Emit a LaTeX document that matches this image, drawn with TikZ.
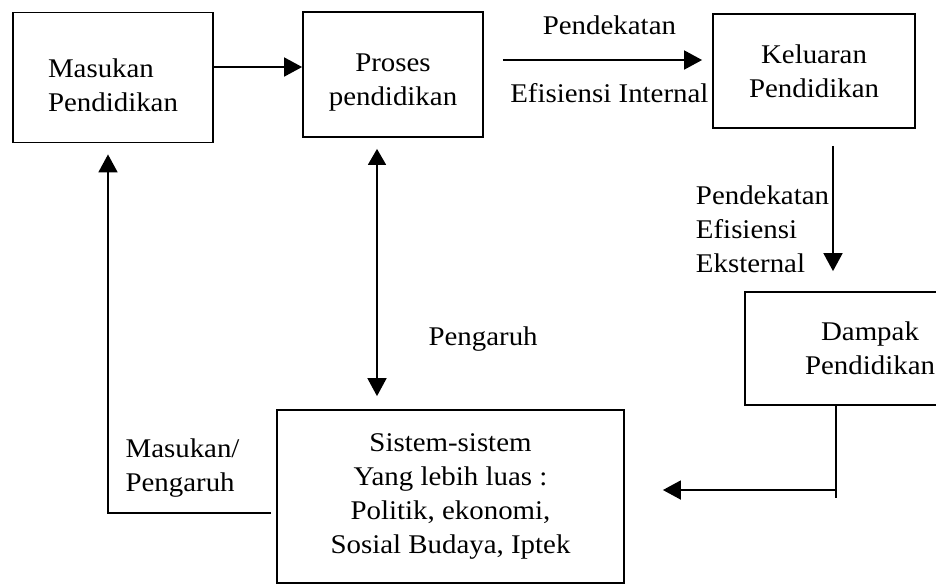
\documentclass[tikz,border=0pt]{standalone}
\usepackage{fontspec}
\setmainfont{Liberation Serif}[FakeStretch=1.07]
\usetikzlibrary{arrows.meta}

\begin{document}
\begin{tikzpicture}[x=0.5pt,y=-0.5pt,
  font=\fontsize{13.5}{17}\selectfont,
  box/.style={draw,line width=0.9pt,inner sep=0pt},
  flow/.style={-{Triangle[length=9pt,width=9.5pt]},line width=0.9pt},
  twoway/.style={{Triangle[length=8pt,width=9pt]}-{Triangle[length=9pt,width=9.5pt]},line width=0.9pt}]
\useasboundingbox (0,0) rectangle (936,586);
\clip (0,0) rectangle (936,586);

\node (masukan)  [box,minimum width=100pt,minimum height=65pt,align=left] at (113,77.5) {\rule{0pt}{17pt}Masukan\\Pendidikan};
\node (proses)   [box,minimum width=90pt,minimum height=62.5pt,align=center] at (393,74.5) {\rule{0pt}{17pt}Proses\\pendidikan};
\node (keluaran) [box,minimum width=101pt,minimum height=57pt,align=center] at (814,71) {Keluaran\\Pendidikan};
\node (dampak)   [box,minimum width=125pt,minimum height=56.5pt,align=center] at (870,348.5) {Dampak\\Pendidikan};
\node (sistem)   [box,minimum width=173.5pt,minimum height=86.5pt,align=center] at (450.5,496.5)
  {Sistem-sistem\\Yang lebih luas :\\Politik, ekonomi,\\Sosial Budaya, Iptek};

\coordinate (cross) at (836,490);
\coordinate (tail) at (836,498);

\path [flow]

(masukan.east |- 0,67)
edge
(proses.west |- 0,67)

(proses.east |- 0,60)
edge [shorten <=9.5pt,shorten >=5pt]
node [pos=0.55,above=9pt] {Pendekatan}
node [pos=0.55,below=8pt] {Efisiensi Internal}
(keluaran.west |- 0,60)

(keluaran.south -| 833,0)
edge [shorten <=8.5pt,shorten >=10pt]
node [pos=0.62,left,inner sep=1.5pt,align=left] {Pendekatan\\Efisiensi\\Eksternal}
(dampak.north -| 833,0)

(cross)
edge [shorten >=19pt]
(sistem.east |- cross)

;

\path [twoway]

(proses.south -| 377,0)
edge [shorten <=5.5pt,shorten >=6.5pt]
node [pos=0.74,right=22pt] {Pengaruh}
(sistem.north -| 377,0)

;

\draw [line width=0.9pt] (dampak.south -| tail) -- (tail);

\draw [flow,shorten <=2.5pt,shorten >=5.5pt] (sistem.west |- 0,513) -|
node [pos=0.5,above right,xshift=5pt,yshift=4pt,align=left] {Masukan/\\Pengaruh}
(masukan.south -| 108,0);

\end{tikzpicture}
\end{document}
